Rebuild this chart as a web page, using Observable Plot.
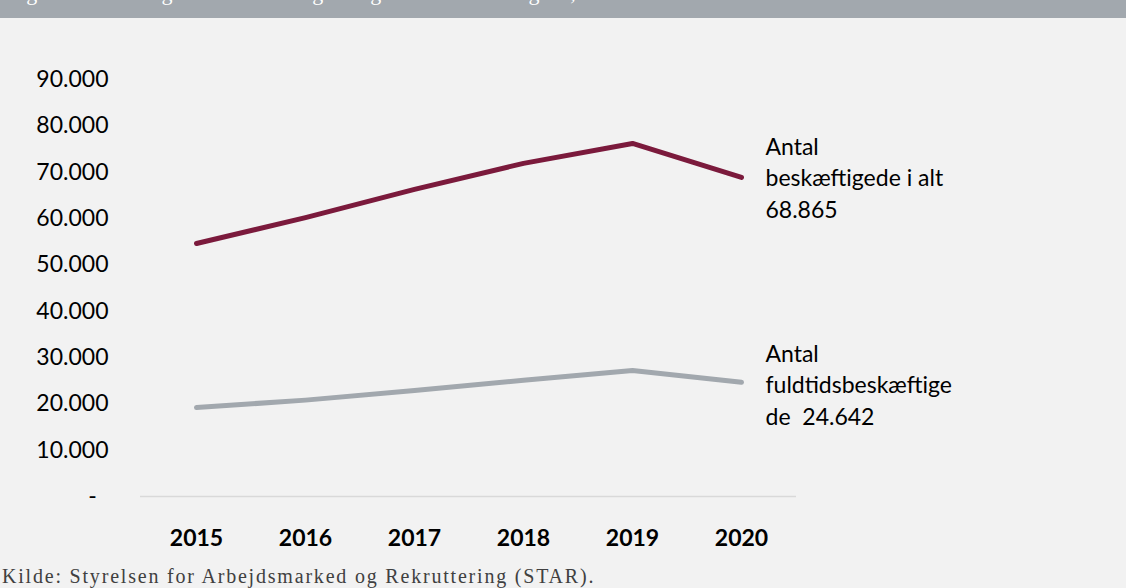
<!DOCTYPE html>
<html>
<head>
<meta charset="utf-8">
<script src="https://cdn.jsdelivr.net/npm/d3@7"></script>
<script src="https://cdn.jsdelivr.net/npm/@observablehq/plot@0.6"></script>
<style>
  html, body { margin: 0; padding: 0; background: #f2f2f2; }
  #wrap { position: relative; width: 1126px; height: 588px; overflow: hidden; background: #f2f2f2; }
  #header { position: absolute; left: 0; top: 0; width: 1126px; height: 18px; background: #a2a8ae; overflow: hidden; z-index: 2; }
  #header span { position: absolute; left: 8px; top: -20px; color: #fff; font: 22px "Liberation Serif", serif; white-space: nowrap; }
  #chart { position: absolute; left: 0; top: 0; }
  #caption { position: absolute; left: 2px; top: 565px; font: 20px "Liberation Serif", serif; letter-spacing: 1.8px; color: #404040; white-space: nowrap; z-index: 2; }
</style>
</head>
<body>
<div id="wrap">
  <div id="header"><span>Figur 1. Udvikling i antal beskæftigede og fuldtidsbeskæftigede, 2015-2020</span></div>
  <div id="chart"></div>
  <div id="caption">Kilde: Styrelsen for Arbejdsmarked og Rekruttering (STAR).</div>
</div>
<script>
const years = ["2015", "2016", "2017", "2018", "2019", "2020"];
const beskaeftigede = [54600, 60200, 66300, 71900, 76200, 68865];
const fuldtid = [19200, 20800, 22900, 25100, 27200, 24642];
const seriesNames = ["Antal beskæftigede i alt", "Antal fuldtidsbeskæftigede"];
const endLabels = ["Antal\nbeskæftigede i alt\n", "Antal\nfuldtidsbeskæftige\nde  "];
const yTicks = [0, 10000, 20000, 30000, 40000, 50000, 60000, 70000, 80000, 90000];

const colors = ["#7b1a3c", "#a2a8ae"];
const fmt = v => v === 0 ? "-\u00a0\u00a0" : d3.format(",")(v).replace(/,/g, ".");

const data = [];
years.forEach((y, i) => {
  data.push({year: y, value: beskaeftigede[i], series: seriesNames[0]});
  data.push({year: y, value: fuldtid[i], series: seriesNames[1]});
});
const last1 = [{year: years[5], value: beskaeftigede[5], label: endLabels[0] + fmt(beskaeftigede[5])}];
const last2 = [{year: years[5], value: fuldtid[5], label: endLabels[1] + fmt(fuldtid[5])}];

const chart = Plot.plot({
  width: 1126,
  height: 560,
  marginLeft: 140,
  marginRight: 330,
  marginTop: 79,
  marginBottom: 64,
  style: {background: "transparent", fontFamily: "Lato, sans-serif", color: "#000"},
  x: {type: "point", domain: years, padding: 0.5, label: null},
  y: {domain: [0, 90000], label: null},
  color: {domain: seriesNames, range: colors},
  marks: [
    Plot.ruleY([0], {stroke: "#d9d9d9", strokeWidth: 1.5}),
    Plot.axisY({ticks: yTicks, tickFormat: fmt, tickSize: 0, tickPadding: 32, fontSize: 23, label: null}),
    Plot.axisX({tickSize: 0, tickPadding: 33, fontSize: 23, fontWeight: "bold", label: null}),
    Plot.line(data, {x: "year", y: "value", z: "series", stroke: "series", strokeWidth: 5, strokeLinecap: "round", strokeLinejoin: "round"}),
    Plot.text(last1, {x: "year", y: "value", text: "label", textAnchor: "start", dx: 24, dy: -1, lineHeight: 1.36, fontSize: 23, fill: "#000", lineAnchor: "middle"}),
    Plot.text(last2, {x: "year", y: "value", text: "label", textAnchor: "start", dx: 24, dy: 1, lineHeight: 1.36, fontSize: 23, fill: "#000", lineAnchor: "middle"})
  ]
});
document.getElementById("chart").appendChild(chart);
</script>
</body>
</html>
